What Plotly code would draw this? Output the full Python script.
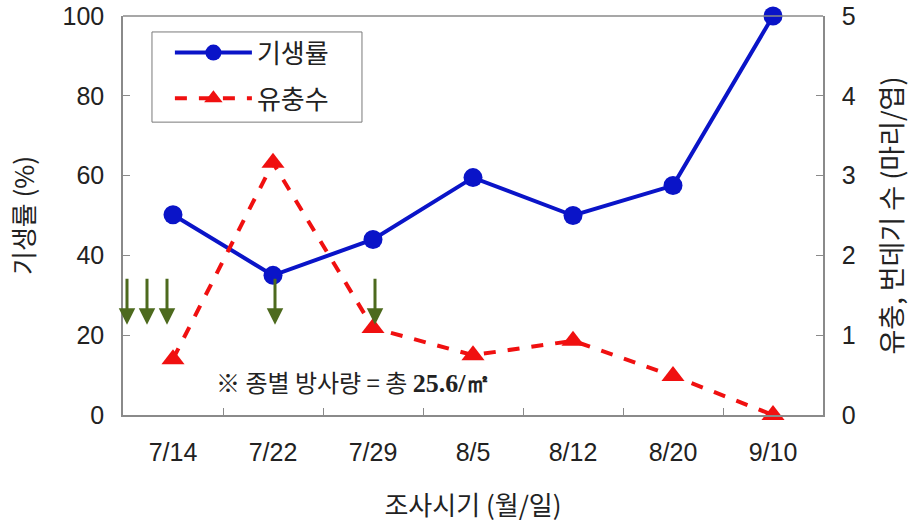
import plotly.graph_objects as go

# Survey dates
dates = ["7/14", "7/22", "7/29", "8/5", "8/12", "8/20", "9/10"]
# Parasitism rate (%)
parasitism = [50.2, 35.0, 44.0, 59.5, 50.0, 57.5, 100.0]
# Larvae + pupae per leaf
larvae = [0.70, 3.16, 1.09, 0.75, 0.93, 0.49, 0.0]
# Release timings (positions on the date axis) for the arrow markers
release_x = [-0.46, -0.26, -0.06, 1.02, 2.02]

KFONT = "Noto Sans CJK KR, Noto Sans, sans-serif"
NFONT = "Liberation Sans, Arial, sans-serif"
AXIS_GRAY = "#8a8a8a"
TXT = "#222222"

fig = go.Figure()

fig.add_trace(go.Scatter(
    x=dates, y=parasitism, name="기생률", mode="lines+markers", legendgroup="a",
    line=dict(color="#0a14c8", width=4),
    marker=dict(symbol="circle", size=19, color="#0a14c8"),
    cliponaxis=False,
))

fig.add_trace(go.Scatter(
    x=dates, y=larvae, name="유충수", mode="lines+markers", yaxis="y2", legendgroup="b",
    line=dict(color="#f01010", width=4, dash="dash"),
    marker=dict(symbol="triangle-up", size=20, color="#f01010"),
    cliponaxis=False,
))

# Green arrows marking release dates
for rx in release_x:
    fig.add_annotation(
        x=rx, y=22.6, ax=rx, ay=34.5, xref="x", yref="y", axref="x", ayref="y",
        text="", showarrow=True, arrowhead=2, arrowsize=1.1, arrowwidth=3,
        arrowcolor="#4d6a1e",
    )

fig.add_annotation(
    xref="paper", yref="paper", x=0.13, y=0.083, xanchor="left", yanchor="middle",
    text="※ 종별 방사량 = 총 <span style=\"font-family:'Liberation Serif', serif; font-size:26px\"><b>25.6/㎡</b></span>",
    showarrow=False, font=dict(family=KFONT, size=24, color=TXT),
)

axis_common = dict(
    showline=True, linecolor=AXIS_GRAY, linewidth=1.5, mirror=False,
    ticks="inside", ticklen=7, tickcolor=AXIS_GRAY, showgrid=False, zeroline=False,
    automargin=False,
)

fig.update_layout(
    width=910, height=531,
    margin=dict(l=123, r=87, t=16, b=116),
    paper_bgcolor="white", plot_bgcolor="white",
    showlegend=True,
    legend=dict(
        x=0.067, y=0.967, xanchor="left", yanchor="top",
        borderwidth=0, bgcolor="rgba(0,0,0,0)",
        font=dict(family=KFONT, size=26, color=TXT),
        itemwidth=77, tracegroupgap=9,
    ),
    xaxis=dict(
        **axis_common, type="category", range=[-0.5, 6.5],
        tickson="boundaries",
        tickfont=dict(family=NFONT, size=25, color=TXT),
        ticklabelstandoff=14,
        title=dict(text="조사시기 (월/일)", font=dict(family=KFONT, size=26, color=TXT), standoff=32),
    ),
    yaxis=dict(
        **axis_common, range=[0, 100], dtick=20,
        tickfont=dict(family=NFONT, size=25, color=TXT),
        ticklabelstandoff=12,
        title=dict(text="기생률 (%)", font=dict(family=KFONT, size=26, color=TXT), standoff=20),
    ),
    yaxis2=dict(
        **axis_common, range=[0, 5], dtick=1, overlaying="y", side="right",
        tickfont=dict(family=NFONT, size=25, color=TXT),
        ticklabelstandoff=12,
        title=dict(text="유충, 번데기 수 (마리/엽)", font=dict(family=KFONT, size=27, color=TXT), standoff=28),
    ),
)

# Legend frame
fig.add_shape(type="rect", xref="paper", yref="paper", x0=0.0414, x1=0.3414, y0=0.734, y1=0.960,
              line=dict(color="#7a7a7a", width=1), fillcolor="white", layer="below")

# Top border of the plot frame
fig.add_shape(type="line", xref="paper", yref="paper", x0=0, x1=1, y0=1, y1=1,
              line=dict(color=AXIS_GRAY, width=1.5))

fig.write_html("out.html")
